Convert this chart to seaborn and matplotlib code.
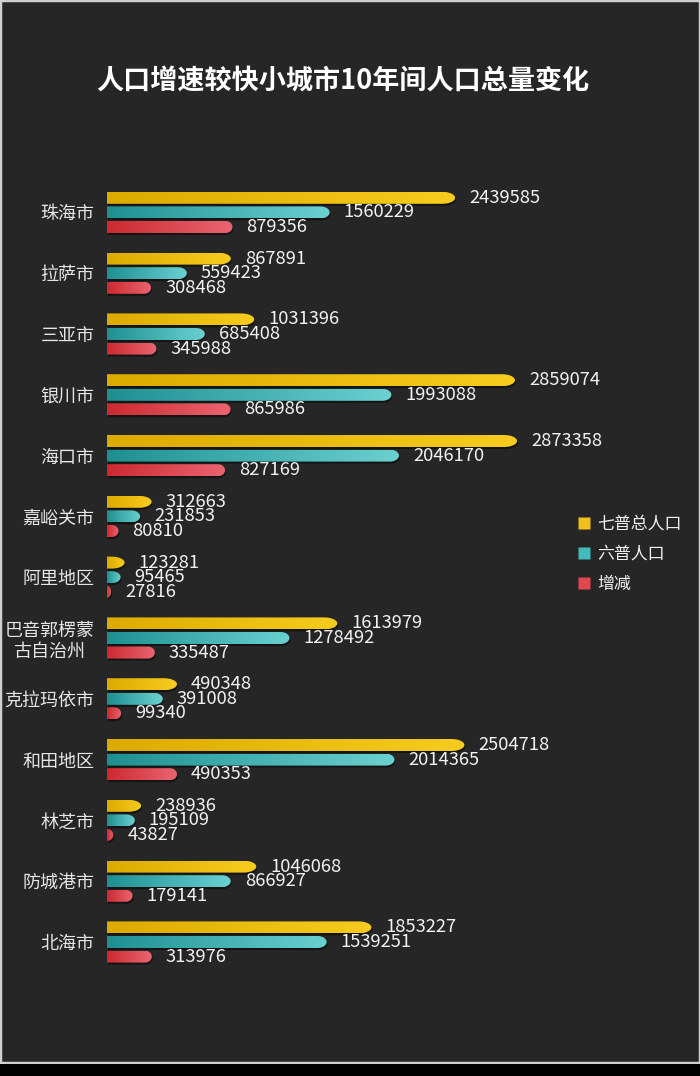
import numpy as np
import pandas as pd
import seaborn as sns
from matplotlib import pyplot as plt
from matplotlib.path import Path
from matplotlib.patches import PathPatch, Rectangle
from matplotlib.colors import LinearSegmentedColormap
from matplotlib.lines import Line2D
import matplotlib.transforms as mtransforms

# Données
villes = ["珠海市", "拉萨市", "三亚市", "银川市", "海口市", "嘉峪关市", "阿里地区",
          "巴音郭楞蒙\n古自治州", "克拉玛依市", "和田地区", "林芝市", "防城港市", "北海市"]
series = ["七普总人口", "六普人口", "增减"]
qipu = [2439585, 867891, 1031396, 2859074, 2873358, 312663, 123281,
        1613979, 490348, 2504718, 238936, 1046068, 1853227]
liupu = [1560229, 559423, 685408, 1993088, 2046170, 231853, 95465,
         1278492, 391008, 2014365, 195109, 866927, 1539251]
zengjian = [879356, 308468, 345988, 865986, 827169, 80810, 27816,
            335487, 99340, 490353, 43827, 179141, 313976]

couleurs = ["#f0c020", "#45baba", "#e04850"]
degrades = [("#dcab00", "#f7cc1e"), ("#1f9092", "#6ad0d0"), ("#cc2a30", "#ea6470")]

df = pd.DataFrame({
    "城市": villes * 3,
    "类别": [s for s in series for _ in villes],
    "人数": qipu + liupu + zengjian,
})

sns.set_style("dark")
plt.rcParams['font.family'] = ['Noto Sans CJK SC', 'DejaVu Sans']

bg = "#262626"
fig = plt.figure(figsize=(7, 10.76), dpi=100, facecolor=bg)
ax = fig.add_axes([107 / 700, 103.6 / 1076, 583 / 700, 790.4 / 1076])
ax.set_facecolor(bg)

sns.barplot(data=df, y="城市", x="人数", hue="类别", palette=couleurs,
            orient="h", width=0.72, dodge=True, legend=False, ax=ax)

xmax = 583 * 7008
ax.set_xlim(0, xmax)
ax.set_ylim(len(villes) - 0.5, -0.5)

# largeur d'un pixel en unités de données
px_x = xmax / 583
px_y = len(villes) / 790.4

ombre = mtransforms.offset_copy(ax.transData, fig=fig, x=1, y=-2, units='dots')

bars = list(ax.patches)
for i, p in enumerate(bars):
    k = i // len(villes)
    w = p.get_width()
    yc = p.get_y() + p.get_height() / 2
    h = 12 * px_y
    y0, y1 = yc - h / 2, yc + h / 2
    p.set_visible(False)
    # bout arrondi à droite
    rx = min([13, 9, 7][k] * px_x, w)
    xs = w - rx
    t = np.linspace(-np.pi / 2, np.pi / 2, 30)
    cap = [(xs + rx * np.cos(a), yc + (h / 2) * np.sin(a)) for a in t]
    verts = [(0, y0)] + cap + [(0, y1), (0, y0)]
    codes = [Path.MOVETO] + [Path.LINETO] * (len(verts) - 2) + [Path.CLOSEPOLY]
    path = Path(verts, codes)
    ax.add_patch(PathPatch(path, facecolor="black", edgecolor="none", alpha=0.45,
                           transform=ombre, zorder=2))
    forme = PathPatch(path, facecolor="none", edgecolor="none", zorder=3)
    ax.add_patch(forme)
    cmap = LinearSegmentedColormap.from_list("g%d" % k, degrades[k])
    im = ax.imshow(np.linspace(0, 1, 64).reshape(1, -1), cmap=cmap, aspect="auto",
                   extent=[0, w, y1, y0], zorder=3, interpolation="bilinear")
    im.set_clip_path(forme)
    ax.annotate(f"{int(w)}", xy=(w, yc), xytext=(14, 0), textcoords="offset pixels",
                ha="left", va="center", color="#f2f2f2", fontsize=13.2, zorder=4)

ax.set_xlim(0, xmax)
ax.set_ylim(len(villes) - 0.5, -0.5)
ax.set_aspect("auto")
ax.set_xticks([])
ax.set_xlabel("")
ax.set_ylabel("")
ax.tick_params(axis="y", length=0, pad=9, labelsize=13, labelcolor="#e6e6e6")
for lab in ax.get_yticklabels():
    lab.set_multialignment("center")
for s in ax.spines.values():
    s.set_visible(False)
ax.grid(False)

fig.text(0.49, 1 - 81 / 1076, "人口增速较快小城市10年间人口总量变化", ha="center", va="center",
         fontsize=19.5, fontweight="bold", color="white")

poignees = [Line2D([], [], marker="s", linestyle="none", markersize=8,
                   markerfacecolor=c, markeredgecolor="none") for c in couleurs]
fig.legend(poignees, series, loc="upper left", bbox_to_anchor=(570 / 700, 1 - 508 / 1076),
           frameon=False, labelcolor="#f0f0f0", fontsize=12.2, handlelength=0.8,
           handletextpad=0.4, labelspacing=0.7, borderaxespad=0)

# cadre clair et bande noire en bas
fig.patches.append(Rectangle((0, 1 - 1063 / 1076), 1, 1063 / 1076, transform=fig.transFigure,
                             fill=False, edgecolor="#cfcfcf", linewidth=2.5))
fig.patches.append(Rectangle((0, 0), 1, 12 / 1076, transform=fig.transFigure,
                             facecolor="black", edgecolor="none"))

fig.savefig("out.png", dpi=100, facecolor=bg)
